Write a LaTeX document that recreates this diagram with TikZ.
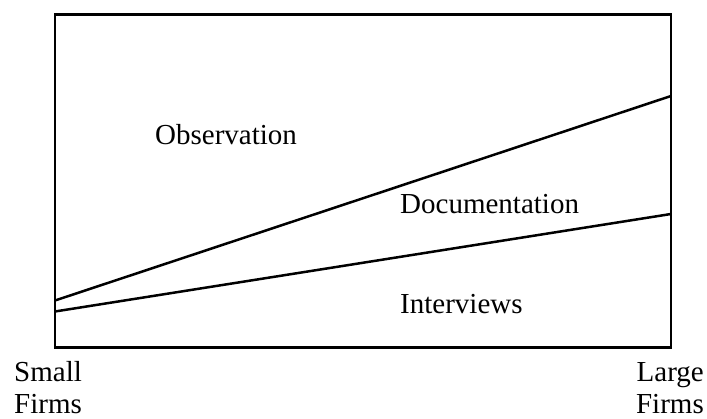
\documentclass[tikz,border=0pt]{standalone}
\usepackage{fontspec}
\setmainfont{Liberation Serif}
\begin{document}
\begin{tikzpicture}[x=1pt, y=-1pt, lbl/.style={inner sep=0pt, font=\fontsize{29}{34}\selectfont}]
    \useasboundingbox (0, 0) rectangle (707, 419);
    \draw[line width=2.5pt] (55, 14.5) rectangle (671, 347.5);
    \coordinate (obsL) at (55, 300.5);
    \coordinate (obsR) at (671, 96);
    \coordinate (intL) at (55, 311.5);
    \coordinate (intR) at (671, 214);
    \draw[line width=2.5pt] (obsL) -- (obsR);
    \draw[line width=2.5pt] (intL) -- (intR);
    \node[lbl, anchor=base west] (obs) at (155, 145) {Observation};
    \node[lbl, anchor=base west] (doc) at (400, 214) {Documentation};
    \node[lbl, anchor=base west] (int) at (400, 314) {Interviews};
    \node[lbl, anchor=base west] (small) at (14, 382) {Small};
    \node[lbl, anchor=base west] (smallf) at (14, 414) {Firms};
    \node[lbl, anchor=base east] (large) at (704, 382) {Large};
    \node[lbl, anchor=base east] (largef) at (704, 414) {Firms};
\end{tikzpicture}
\end{document}
